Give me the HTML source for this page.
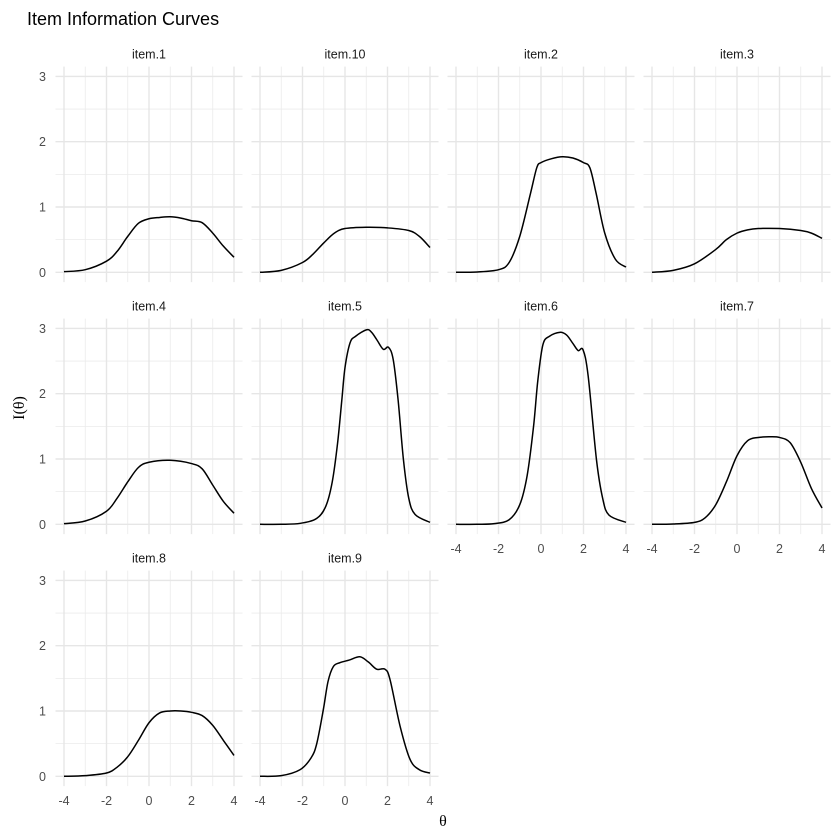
<!DOCTYPE html>
<html><head><meta charset="utf-8"><style>
html,body{margin:0;padding:0;background:#fff;}
svg{display:block;font-family:"Liberation Sans",sans-serif;}
</style></head><body>
<svg id="s" width="840" height="840" viewBox="0 0 840 840" xmlns="http://www.w3.org/2000/svg">
<rect width="840" height="840" fill="#fff"/>
<text x="27" y="25" font-size="18" fill="#000">Item Information Curves</text>
<text x="443" y="826" font-size="16" text-anchor="middle" font-family="Liberation Serif,serif" fill="#000">θ</text>
<text transform="translate(24,408) rotate(-90)" font-size="16" text-anchor="middle" font-family="Liberation Serif,serif" fill="#000">I(θ)</text>
</svg>
<script>
var s=document.getElementById('s'),NS='http://www.w3.org/2000/svg';
function el(t,a,txt){var e=document.createElementNS(NS,t);for(var k in a)e.setAttribute(k,a[k]);if(txt!==undefined)e.textContent=txt;s.appendChild(e);return e;}
var XS=21.25,YS=65.3;
var items=[
["item.1",[[-4,.01],[-3,.04],[-2,.17],[-1.5,.32],[-1,.55],[-.5,.75],[0,.82],[.5,.84],[1,.85],[1.5,.83],[2,.79],[2.5,.76],[3,.6],[3.5,.4],[4,.23]]],
["item.10",[[-4,0],[-3,.03],[-2,.15],[-1.5,.28],[-1,.45],[-.5,.6],[0,.67],[1,.69],[2,.68],[3,.64],[3.5,.55],[4,.38]]],
["item.2",[[-4,0],[-3,.005],[-2,.04],[-1.5,.15],[-1,.55],[-.5,1.2],[-.2,1.6],[0,1.68],[.5,1.74],[1,1.77],[1.5,1.75],[2,1.68],[2.3,1.6],[2.6,1.2],[3,.6],[3.5,.2],[4,.08]]],
["item.3",[[-4,0],[-3,.03],[-2,.13],[-1,.35],[-.5,.5],[0,.6],[.5,.65],[1,.67],[2,.67],[3,.64],[3.5,.6],[4,.52]]],
["item.4",[[-4,.01],[-3,.05],[-2,.2],[-1.5,.4],[-1,.65],[-.5,.87],[0,.95],[1,.98],[2,.93],[2.5,.85],[3,.6],[3.5,.35],[4,.17]]],
["item.5",[[-4,0],[-3,0],[-2.1,.015],[-1.33,.09],[-.9,.28],[-.6,.65],[-.35,1.24],[-.15,1.9],[0,2.4],[.24,2.78],[.5,2.88],[1.02,2.98],[1.25,2.94],[1.49,2.83],[1.8,2.68],[2.05,2.71],[2.27,2.52],[2.5,1.9],[2.75,.99],[3.0,.4],[3.3,.15],[4,.03]]],
["item.6",[[-4,0],[-3,0],[-2.2,.01],[-1.5,.07],[-1.0,.3],[-.65,.75],[-.35,1.5],[-.15,2.2],[.09,2.75],[.4,2.88],[.88,2.94],[1.2,2.9],[1.5,2.77],[1.75,2.66],[1.98,2.67],[2.22,2.27],[2.61,.99],[2.9,.4],[3.2,.14],[4,.03]]],
["item.7",[[-4,0],[-3,.005],[-2,.03],[-1.5,.1],[-1,.3],[-.5,.65],[0,1.05],[.5,1.28],[1,1.33],[1.5,1.34],[2,1.33],[2.5,1.25],[3,.95],[3.5,.55],[4,.25]]],
["item.8",[[-4,0],[-3,.01],[-2,.05],[-1.5,.14],[-1,.3],[-.5,.55],[0,.82],[.5,.97],[1,1.0],[1.5,1.0],[2,.98],[2.5,.93],[3,.78],[3.5,.55],[4,.32]]],
["item.9",[[-4,0],[-3,.01],[-2.12,.1],[-1.6,.28],[-1.33,.5],[-1.02,1.02],[-.8,1.45],[-.55,1.68],[-.24,1.74],[.2,1.78],[.7,1.83],[1.1,1.75],[1.49,1.64],[1.88,1.64],[2.12,1.48],[2.59,.77],[3.06,.26],[3.5,.1],[4,.05]]]
];
items.forEach(function(it,i){
 var c=i%4,r=Math.floor(i/4);
 var x0=64+196*c+4*XS, y0=272.3+252*r;
 function X(t){return x0+t*XS;} function Y(v){return y0-v*YS;}
 var L=X(-4.4),R=X(4.4),T=Y(3.15),B=Y(-0.15);
 [-3,-1,1,3].forEach(function(t){el('line',{x1:X(t),x2:X(t),y1:T,y2:B,stroke:'#ebebeb','stroke-width':.8});});
 [.5,1.5,2.5].forEach(function(v){el('line',{x1:L,x2:R,y1:Y(v),y2:Y(v),stroke:'#ebebeb','stroke-width':.8});});
 [-4,-2,0,2,4].forEach(function(t){el('line',{x1:X(t),x2:X(t),y1:T,y2:B,stroke:'#e6e6e6','stroke-width':1.4});});
 [0,1,2,3].forEach(function(v){el('line',{x1:L,x2:R,y1:Y(v),y2:Y(v),stroke:'#e6e6e6','stroke-width':1.4});});
 el('text',{x:(L+R)/2,y:T-8,'font-size':12.5,'text-anchor':'middle',fill:'#1a1a1a'},it[0]);
 if(c==0)[0,1,2,3].forEach(function(v){el('text',{x:46,y:Y(v)+4.5,'font-size':12.5,'text-anchor':'end',fill:'#4d4d4d'},v);});
 if(r==2||(r==1&&c>=2))[-4,-2,0,2,4].forEach(function(t){el('text',{x:X(t),y:B+19,'font-size':12.5,'text-anchor':'middle',fill:'#4d4d4d'},t);});
 var p=it[1],d='M'+X(p[0][0]).toFixed(2)+','+Y(p[0][1]).toFixed(2);
 for(var k=0;k<p.length-1;k++){
  var p0=p[Math.max(k-1,0)],p1=p[k],p2=p[k+1],p3=p[Math.min(k+2,p.length-1)];
  var ax=[X(p0[0]),Y(p0[1])],bx=[X(p1[0]),Y(p1[1])],cx=[X(p2[0]),Y(p2[1])],dx=[X(p3[0]),Y(p3[1])];
  var c1=[bx[0]+(cx[0]-ax[0])/6,bx[1]+(cx[1]-ax[1])/6],c2=[cx[0]-(dx[0]-bx[0])/6,cx[1]-(dx[1]-bx[1])/6];
  d+=' C'+c1[0].toFixed(2)+','+c1[1].toFixed(2)+' '+c2[0].toFixed(2)+','+c2[1].toFixed(2)+' '+cx[0].toFixed(2)+','+cx[1].toFixed(2);
 }
 el('path',{d:d,fill:'none',stroke:'#000','stroke-width':1.5});
});
</script>
</body></html>
